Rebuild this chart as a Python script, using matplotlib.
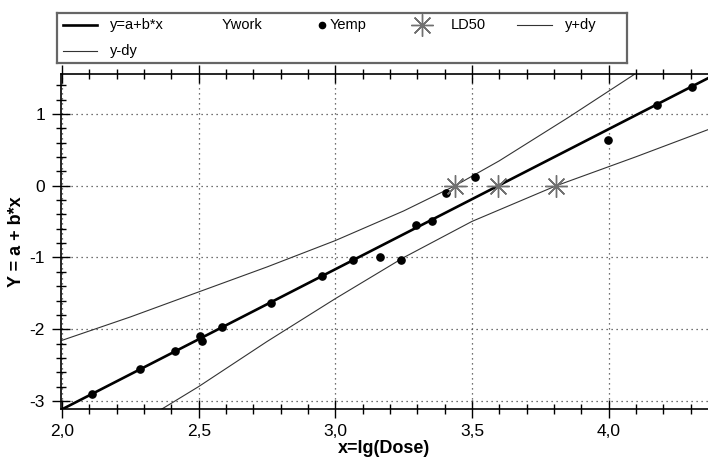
import matplotlib
matplotlib.use("Agg")
import matplotlib.pyplot as plt
from matplotlib.ticker import MultipleLocator, FuncFormatter

plt.rcParams["font.family"] = ["Liberation Sans", "DejaVu Sans"]
plt.rcParams["axes.unicode_minus"] = False

# empirical probits (Yemp)
x_emp = [2.109, 2.285, 2.415, 2.505, 2.512, 2.585, 2.766, 2.952, 3.065, 3.164,
         3.241, 3.296, 3.354, 3.406, 3.510, 3.997, 4.178, 4.306]
y_emp = [-2.91, -2.555, -2.31, -2.10, -2.16, -1.965, -1.635, -1.258, -1.035,
         -0.993, -1.03, -0.541, -0.486, -0.095, 0.123, 0.635, 1.123, 1.378]

# fitted line y=a+b*x (end points)
x_fit = [2.0, 4.37]
y_fit = [-3.117, 1.512]

# confidence band y+dy / y-dy
x_up = [2.0, 2.25, 2.5, 2.75, 3.0, 3.25, 3.438, 3.6, 3.85, 4.095]
y_up = [-2.155, -1.829, -1.480, -1.132, -0.764, -0.351, 0.0, 0.348, 0.946, 1.555]
x_lo = [2.364, 2.5, 2.75, 3.0, 3.25, 3.5, 3.808, 4.1, 4.369]
y_lo = [-3.116, -2.80, -2.172, -1.574, -1.001, -0.497, 0.0, 0.404, 0.79]

# LD50 with limits
x_ld = [3.438, 3.596, 3.808]
y_ld = [0.0, 0.0, 0.0]

W, H = 708, 465
fig = plt.figure(figsize=(W / 100, H / 100), dpi=100)
ax = fig.add_axes([61 / W, 1 - 409 / H, (708 - 61) / W, (409 - 74) / H])

ax.plot(x_up, y_up, "-", color="#333333", lw=0.8)
ax.plot(x_lo, y_lo, "-", color="#333333", lw=0.8)
ax.plot(x_fit, y_fit, "-", color="black", lw=1.9)
ax.plot(x_emp, y_emp, "o", color="black", ms=5.2)
ax.plot(x_ld, y_ld, ls="none", marker=(8, 2, 0), color="#707070", ms=16, mew=1.0)

ax.set_xlim(1.996, 4.364)
ax.set_ylim(-3.113, 1.559)
ax.xaxis.set_major_locator(MultipleLocator(0.5))
ax.xaxis.set_minor_locator(MultipleLocator(0.1))
ax.yaxis.set_major_locator(MultipleLocator(1))
ax.yaxis.set_minor_locator(MultipleLocator(0.2))
ax.xaxis.set_major_formatter(FuncFormatter(lambda v, _: f"{v:.1f}".replace(".", ",")))
ax.yaxis.set_major_formatter(FuncFormatter(lambda v, _: f"{v:.0f}"))
ax.tick_params(axis="both", which="major", direction="inout", length=13, width=1,
               labelsize=12.5, colors="black")
ax.tick_params(axis="both", which="minor", direction="inout", length=7, width=1)
ax.tick_params(axis="x", which="both", top=True, pad=4)
ax.tick_params(axis="y", which="major", pad=5)
ax.tick_params(axis="x", which="both", labeltop=False)
for s in ("left", "bottom", "top"):
    ax.spines[s].set_linewidth(1.2)
ax.spines["right"].set_visible(False)
ax.grid(which="major", ls=(0, (1, 3)), color="#444444", lw=0.9)

ax.set_xlabel("x=lg(Dose)", fontsize=13, fontweight="bold", labelpad=1)
ax.set_ylabel("Y = a + b*x", fontsize=13, fontweight="bold", labelpad=3)

# legend box drawn in pixel coordinates
lax = fig.add_axes([57 / W, 1 - 63 / H, (627 - 57) / W, 50 / H])
lax.set_xlim(57, 627)
lax.set_ylim(63, 13)
lax.set_xticks([])
lax.set_yticks([])
for s in lax.spines.values():
    s.set_color("#666666")
    s.set_linewidth(1.6)
r1, r2 = 25, 51
fs = 10.5
lax.plot([63, 97], [r1, r1], color="black", lw=1.9)
lax.text(110, r1, "y=a+b*x", fontsize=fs, va="center")
lax.text(222, r1, "Ywork", fontsize=fs, va="center")
lax.plot([322], [r1], "o", color="black", ms=4.5)
lax.text(330, r1, "Yemp", fontsize=fs, va="center")
lax.plot([422], [r1], marker=(8, 2, 0), color="#707070", ms=16, mew=1.0)
lax.text(451, r1, "LD50", fontsize=fs, va="center")
lax.plot([517, 552], [r1, r1], color="#333333", lw=0.8)
lax.text(565, r1, "y+dy", fontsize=fs, va="center")
lax.plot([63, 97], [r2, r2], color="#333333", lw=0.8)
lax.text(110, r2, "y-dy", fontsize=fs, va="center")

fig.savefig("out.png", dpi=100)
